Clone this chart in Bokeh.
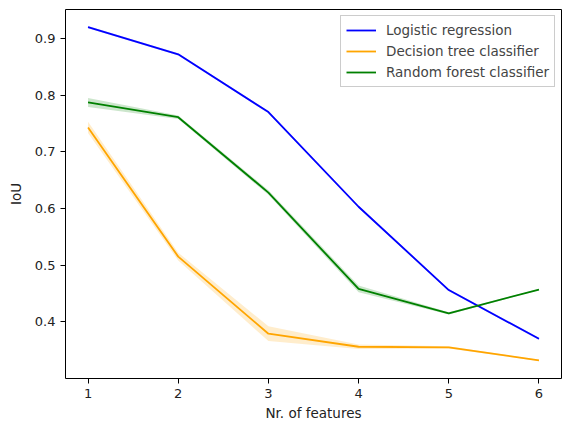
from bokeh.plotting import figure
from bokeh.models import Range1d, Legend, LegendItem, FixedTicker
from bokeh.embed import file_html
from bokeh.resources import INLINE

n_features = [1, 2, 3, 4, 5, 6]
logreg_iou = [0.920, 0.872, 0.770, 0.603, 0.456, 0.370]
logreg_err = [0.002, 0.002, 0.002, 0.002, 0.002, 0.002]
tree_iou = [0.743, 0.515, 0.379, 0.356, 0.355, 0.332]
tree_err = [0.010, 0.007, 0.013, 0.004, 0.002, 0.001]
forest_iou = [0.787, 0.761, 0.628, 0.458, 0.415, 0.457]
forest_err = [0.008, 0.003, 0.004, 0.006, 0.002, 0.001]
y_ticks = [0.4, 0.5, 0.6, 0.7, 0.8, 0.9]

FONT = "DejaVu Sans"
FS = "13.5px"

p = figure(width=562, height=423, output_backend="svg", toolbar_location=None,
           x_range=Range1d(0.75, 6.25), y_range=Range1d(0.300, 0.951),
           min_border_left=65, min_border_right=1, min_border_top=9, min_border_bottom=43)
p.grid.visible = False
p.outline_line_color = "black"
p.outline_line_width = 1

series = [
    ("Logistic regression", logreg_iou, logreg_err, "blue"),
    ("Decision tree classifier", tree_iou, tree_err, "orange"),
    ("Random forest classifier", forest_iou, forest_err, "green"),
]
items = []
for name, vals, errs, color in series:
    lo = [v - e for v, e in zip(vals, errs)]
    hi = [v + e for v, e in zip(vals, errs)]
    p.varea(x=n_features, y1=lo, y2=hi, fill_color=color, fill_alpha=0.2)
    r = p.line(n_features, vals, line_color=color, line_width=1.8)
    items.append(LegendItem(label=name, renderers=[r]))

legend = Legend(items=items, location="top_right", margin=6, padding=5,
                spacing=3, label_height=18, glyph_width=30, glyph_height=18,
                label_standoff=10, label_text_font=FONT, label_text_font_size=FS,
                border_line_color="#cccccc", border_line_alpha=1.0,
                background_fill_alpha=0.8)
p.add_layout(legend)

for ax in (p.xaxis[0], p.yaxis[0]):
    ax.major_label_text_font = FONT
    ax.major_label_text_font_size = "13px"
    ax.major_label_text_color = "#222222"
    ax.axis_label_text_font = FONT
    ax.axis_label_text_font_size = FS
    ax.axis_label_text_font_style = "normal"
    ax.axis_label_text_color = "#222222"
    ax.major_tick_in = 0
    ax.major_tick_out = 5
    ax.minor_tick_line_color = None
    ax.axis_line_color = None
    ax.major_tick_line_color = "black"

p.xaxis[0].ticker = FixedTicker(ticks=n_features)
p.yaxis[0].ticker = FixedTicker(ticks=y_ticks)
p.xaxis[0].axis_label = "Nr. of features"
p.yaxis[0].axis_label = "IoU"
p.xaxis[0].major_label_standoff = 5
p.yaxis[0].major_label_standoff = 5
p.xaxis[0].axis_label_standoff = 4
p.yaxis[0].axis_label_standoff = 8

open("out.html", "w").write(file_html(p, INLINE))
